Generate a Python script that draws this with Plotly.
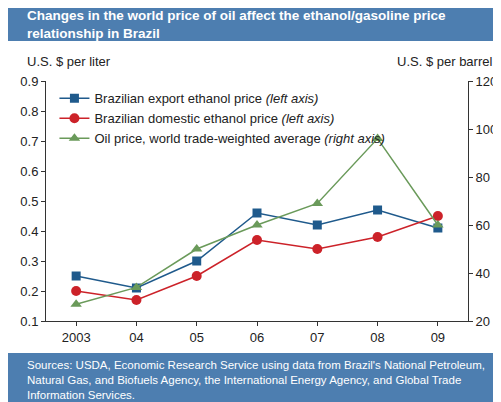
import plotly.graph_objects as go

years = ["2003", "04", "05", "06", "07", "08", "09"]
export_ethanol = [0.25, 0.21, 0.30, 0.46, 0.42, 0.47, 0.41]
domestic_ethanol = [0.20, 0.17, 0.25, 0.37, 0.34, 0.38, 0.45]
oil_price = [27, 34, 50, 60, 69, 96, 60]

blue = "#1f5a8c"
red = "#cc2229"
green = "#6a9a5a"

fig = go.Figure()
fig.add_trace(go.Scatter(x=years, y=export_ethanol, name="Brazilian export ethanol price <i>(left axis)</i>",
                         mode="lines+markers", line=dict(color=blue, width=1.5),
                         marker=dict(symbol="square", size=9, color=blue)))
fig.add_trace(go.Scatter(x=years, y=domestic_ethanol, name="Brazilian domestic ethanol price <i>(left axis)</i>",
                         mode="lines+markers", line=dict(color=red, width=1.5),
                         marker=dict(symbol="circle", size=10, color=red)))
fig.add_trace(go.Scatter(x=years, y=oil_price, name="Oil price, world trade-weighted average <i>(right axis)</i>",
                         mode="lines+markers", line=dict(color=green, width=1.5), yaxis="y2",
                         marker=dict(symbol="triangle-up", size=10, color=green)))

axis_common = dict(showline=True, linecolor="#333", ticks="outside", tickcolor="#333", ticklen=4,
                   showgrid=False, zeroline=False, tickfont=dict(size=13, color="#222"))
fig.update_layout(
    width=501, height=402,
    margin=dict(l=28, r=33, t=73, b=89),
    paper_bgcolor="white", plot_bgcolor="white",
    font=dict(family="Liberation Sans, Arial", color="#222"),
    showlegend=True,
    legend=dict(x=0.02, y=0.99, xanchor="left", yanchor="top", bgcolor="rgba(0,0,0,0)",
                font=dict(size=13), tracegroupgap=0),
    xaxis=dict(**axis_common, type="category", range=[-0.5, 6.5]),
    yaxis=dict(**axis_common, range=[0.1, 0.9], dtick=0.1, tickformat=".1f"),
    yaxis2=dict(**axis_common, range=[20, 120], dtick=20, overlaying="y", side="right"),
    shapes=[
        dict(type="rect", xref="paper", yref="paper", x0=-0.1, x1=1.1, y0=1.167, y1=1.35,
             fillcolor="#4d7eb0", line=dict(width=0)),
        dict(type="rect", xref="paper", yref="paper", x0=-0.1, x1=1.1, y0=-0.4, y1=-0.133,
             fillcolor="#4d7eb0", line=dict(width=0)),
    ],
    annotations=[
        dict(text="<b>Changes in the world price of oil affect the ethanol/gasoline price<br>relationship in Brazil</b>",
             xref="paper", yref="paper", x=-0.05, y=1.235, xanchor="left", yanchor="middle",
             showarrow=False, align="left", font=dict(size=13.5, color="white")),
        dict(text="U.S. $ per liter", xref="paper", yref="paper", x=-0.05, y=1.083,
             xanchor="left", yanchor="middle", showarrow=False, font=dict(size=13)),
        dict(text="U.S. $ per barrel", xref="paper", yref="paper", x=1.061, y=1.083,
             xanchor="right", yanchor="middle", showarrow=False, font=dict(size=13)),
        dict(text="Sources: USDA, Economic Research Service using data from Brazil's National Petroleum,<br>"
                  "Natural Gas, and Biofuels Agency, the International Energy Agency, and Global Trade<br>"
                  "Information Services.",
             xref="paper", yref="paper", x=-0.05, y=-0.245, xanchor="left", yanchor="middle",
             showarrow=False, align="left", font=dict(size=11.5, color="white")),
    ],
)

fig.write_html("out.html")
